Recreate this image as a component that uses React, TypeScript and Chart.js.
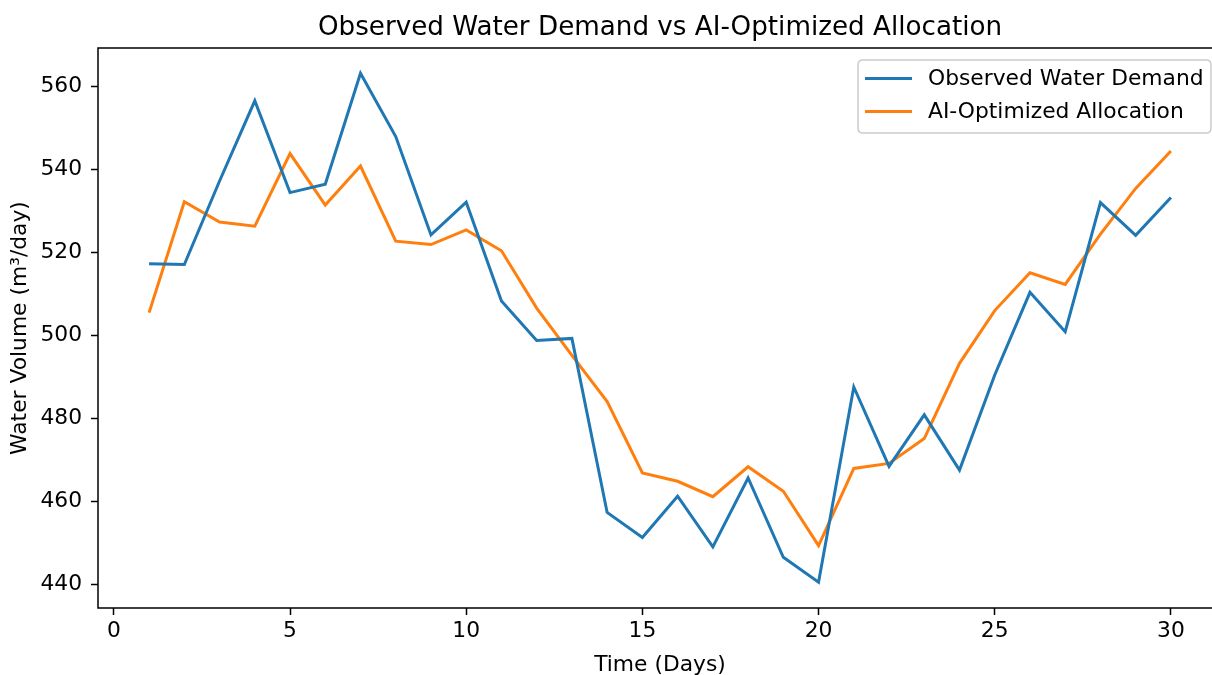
import React, { useEffect, useRef } from "react";
import { Chart, registerables } from "chart.js";

Chart.register(...registerables);

const days = [1, 2, 3, 4, 5, 6, 7, 8, 9, 10, 11, 12, 13, 14, 15, 16, 17, 18, 19, 20, 21, 22, 23, 24, 25, 26, 27, 28, 29, 30];
const observedDemand = [517.3, 517.1, 537.2, 556.5, 534.4, 536.4, 563.1, 547.9, 524.2, 532.1, 508.3, 498.8, 499.3, 457.4, 451.4, 461.3, 449.1, 465.7, 446.6, 440.6, 487.6, 468.5, 480.9, 467.6, 490.5, 510.4, 500.9, 532.0, 524.1, 533.2];
const aiAllocation = [505.5, 532.2, 527.3, 526.3, 543.8, 531.4, 540.8, 522.7, 521.9, 525.4, 520.4, 506.6, 495.2, 484.1, 466.9, 464.9, 461.2, 468.4, 462.5, 449.4, 468.0, 469.2, 475.2, 493.3, 506.0, 515.1, 512.3, 524.4, 535.4, 544.4];
const xTicks = [0, 5, 10, 15, 20, 25, 30];
const yTicks = [440, 460, 480, 500, 520, 540, 560];

const seriesNames = ["Observed Water Demand", "AI-Optimized Allocation"];
const seriesColors = ["#1f77b4", "#ff7f0e"];

const FONT = "'DejaVu Sans', 'Liberation Sans', sans-serif";
const BASE = 21.8;

const framePlugin = {
  id: "frame",
  afterDatasetsDraw(chart: any) {
    const { ctx, chartArea, width } = chart;
    ctx.save();
    ctx.strokeStyle = "#000";
    ctx.lineWidth = 1.5;
    ctx.beginPath();
    ctx.moveTo(width, chartArea.top);
    ctx.lineTo(chartArea.left, chartArea.top);
    ctx.lineTo(chartArea.left, chartArea.bottom);
    ctx.lineTo(width, chartArea.bottom);
    ctx.stroke();
    ctx.restore();
  },
};

const legendPlugin = {
  id: "boxLegend",
  afterDraw(chart: any) {
    const { ctx, chartArea } = chart;
    const w = 353;
    const h = 73;
    const right = chartArea.right - 11;
    const left = right - w;
    const top = chartArea.top + 12;
    ctx.save();
    ctx.beginPath();
    const r = 5;
    ctx.moveTo(left + r, top);
    ctx.lineTo(left + w - r, top);
    ctx.quadraticCurveTo(left + w, top, left + w, top + r);
    ctx.lineTo(left + w, top + h - r);
    ctx.quadraticCurveTo(left + w, top + h, left + w - r, top + h);
    ctx.lineTo(left + r, top + h);
    ctx.quadraticCurveTo(left, top + h, left, top + h - r);
    ctx.lineTo(left, top + r);
    ctx.quadraticCurveTo(left, top, left + r, top);
    ctx.closePath();
    ctx.fillStyle = "rgba(255,255,255,0.8)";
    ctx.fill();
    ctx.strokeStyle = "#cccccc";
    ctx.lineWidth = 1.5;
    ctx.stroke();
    chart.data.datasets.forEach((ds: any, i: number) => {
      const y = top + 18.5 + i * 33;
      ctx.beginPath();
      ctx.strokeStyle = ds.borderColor;
      ctx.lineWidth = 3;
      ctx.moveTo(left + 7, y);
      ctx.lineTo(left + 54, y);
      ctx.stroke();
      ctx.fillStyle = "#000";
      ctx.font = `${BASE}px ${FONT}`;
      ctx.textBaseline = "middle";
      ctx.textAlign = "left";
      ctx.fillText(ds.label, left + 70, y + 1);
    });
    ctx.restore();
  },
};

export default function App() {
  const canvasRef = useRef<HTMLCanvasElement | null>(null);

  useEffect(() => {
    document.body.style.margin = "0";
    document.body.style.overflow = "hidden";
    const canvas = canvasRef.current;
    if (!canvas) return;
    const chart = new Chart(canvas, {
      type: "line",
      data: {
        labels: days,
        datasets: [
          {
            label: seriesNames[0],
            data: days.map((d, i) => ({ x: d, y: observedDemand[i] })),
            borderColor: seriesColors[0],
            backgroundColor: seriesColors[0],
            borderWidth: 3,
            pointRadius: 0,
            tension: 0,
            fill: false,
          },
          {
            label: seriesNames[1],
            data: days.map((d, i) => ({ x: d, y: aiAllocation[i] })),
            borderColor: seriesColors[1],
            backgroundColor: seriesColors[1],
            borderWidth: 3,
            pointRadius: 0,
            tension: 0,
            fill: false,
          },
        ],
      },
      options: {
        animation: false,
        responsive: false,
        devicePixelRatio: 1,
        layout: { padding: { left: 0, right: 28, top: 0, bottom: 0 } },
        plugins: {
          legend: { display: false },
          tooltip: { enabled: false },
          title: {
            display: true,
            text: "Observed Water Demand vs AI-Optimized Allocation",
            color: "#000",
            fullSize: false,
            font: { family: FONT, size: 26.2, weight: "normal", lineHeight: 1.2 },
            padding: { top: 12.1, bottom: 4.5 },
          },
        },
        scales: {
          x: {
            type: "linear",
            min: -0.45,
            max: 31.45,
            afterBuildTicks: (scale: any) => {
              scale.ticks = xTicks.map((v) => ({ value: v }));
            },
            afterFit: (scale: any) => {
              scale.height = 70;
            },
            ticks: {
              color: "#000",
              font: { family: FONT, size: BASE },
              padding: 3.5,
              maxRotation: 0,
              callback: (v: any) => String(v),
            },
            grid: {
              display: true,
              drawOnChartArea: false,
              drawTicks: true,
              tickLength: 7,
              tickWidth: 1.5,
              tickColor: "#000",
            },
            border: { display: false },
            title: {
              display: true,
              text: "Time (Days)",
              color: "#000",
              font: { family: FONT, size: BASE, lineHeight: 1.2 },
              padding: { top: 0, bottom: 0 },
            },
          },
          y: {
            type: "linear",
            min: 434.4,
            max: 569.2,
            afterBuildTicks: (scale: any) => {
              scale.ticks = yTicks.map((v) => ({ value: v }));
            },
            afterFit: (scale: any) => {
              scale.width = 98;
            },
            ticks: {
              color: "#000",
              font: { family: FONT, size: BASE },
              padding: 9,
              callback: (v: any) => String(v),
            },
            grid: {
              display: true,
              drawOnChartArea: false,
              drawTicks: true,
              tickLength: 7,
              tickWidth: 1.5,
              tickColor: "#000",
            },
            border: { display: false },
            title: {
              display: true,
              text: "Water Volume (m³/day)",
              color: "#000",
              font: { family: FONT, size: BASE, lineHeight: 1.2 },
              padding: { top: 7.4, bottom: 0 },
            },
          },
        },
      } as any,
      plugins: [framePlugin, legendPlugin],
    });
    return () => chart.destroy();
  }, []);

  return (
    <div style={{ width: 1212, height: 675, overflow: "hidden", background: "#fff" }}>
      <canvas ref={canvasRef} width={1250} height={678} style={{ display: "block" }} />
    </div>
  );
}
